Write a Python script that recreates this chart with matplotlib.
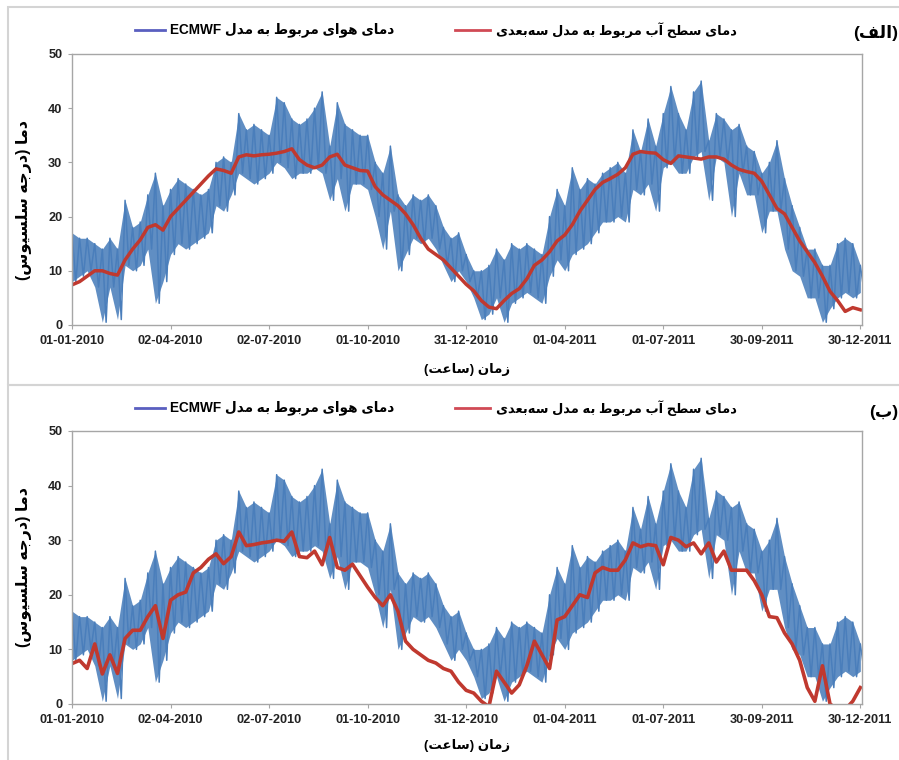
import re
import numpy as np
import matplotlib
matplotlib.use('Agg')
import matplotlib.pyplot as plt
from matplotlib.lines import Line2D
from matplotlib.patches import Rectangle

plt.rcParams['font.family'] = ['Liberation Sans', 'DejaVu Sans']

# sample days (weekly) from 01-01-2010
days = np.arange(0, 729, 7)

tick_days = [0, 91, 182, 273, 364, 455, 546, 637, 728]
tick_labels = ['01-01-2010', '02-04-2010', '02-07-2010', '01-10-2010', '31-12-2010',
               '01-04-2011', '01-07-2011', '30-09-2011', '30-12-2011']

# ECMWF air temperature, weekly upper / lower swing
air_hi = [17, 16, 16, 15, 14, 16, 14, 23, 18, 19,
          24, 28, 22, 25, 27, 26, 25, 24, 25, 30,
          31, 30, 39, 36, 37, 36, 35, 42, 41, 38,
          37, 38, 40, 43, 33, 41, 37, 36, 35, 35,
          30, 28, 33, 24, 22, 24, 23, 24, 22, 18,
          16, 17, 13, 10, 10, 11, 14, 12, 15, 14,
          15, 14, 13, 20, 25, 22, 29, 25, 27, 26,
          28, 29, 30, 28, 36, 32, 38, 33, 39, 44,
          39, 36, 43, 45, 34, 39, 38, 36, 37, 33,
          32, 28, 30, 34, 27, 22, 18, 14, 14, 11,
          11, 15, 16, 15, 11]
air_lo = [8, 9, 10, 7, 0.5, 7, 1, 11, 10, 11,
          14, 4, 8, 13, 15, 14, 15, 16, 17, 22,
          21, 24, 28, 27, 26, 27, 28, 30, 29, 27,
          28, 28, 29, 28, 23, 27, 21, 26, 26, 25,
          20, 14, 21, 10, 13, 16, 15, 16, 14, 11,
          8, 10, 8, 5, 1, 2, 5, 0.5, 4, 5,
          6, 5, 4, 9, 12, 10, 13, 14, 15, 17,
          19, 19, 20, 19, 25, 24, 26, 21, 29, 30,
          28, 28, 31, 32, 23, 31, 30, 20, 28, 24,
          24, 17, 21, 21, 14, 10, 9, 5, 5, 0.5,
          3, 5, 6, 5, 6]

# water surface temperature, panel (a)
water_a = [7.4, 8, 9, 10, 10, 9.5, 9.2, 12, 14, 15.7,
           18, 18.5, 17.5, 20, 21.5, 23, 24.5, 26, 27.5, 28.8,
           28.5, 28, 31, 31.4, 31.2, 31.4, 31.5, 31.7, 32, 32.5,
           30.5, 29.5, 29, 29.5, 31, 31.5, 29.5, 29, 28.5, 28.4,
           25.5, 24, 23, 22, 20.5, 18.5, 16, 14, 13, 12,
           10.5, 9, 7.5, 6.3, 4.5, 3.3, 3, 4.5, 5.8, 6.7,
           8.5, 11, 12, 13.5, 15.5, 16.6, 18.5, 21, 23, 25,
           26.3, 27, 27.8, 29, 31.5, 32, 31.8, 31.7, 30.5, 29.8,
           31.2, 31, 30.8, 30.6, 31, 31, 30.6, 29.5, 28.7, 28.3,
           28, 26.5, 24, 21.5, 20.5, 18, 15.5, 13.5, 11.5, 9,
           6.2, 4.5, 2.5, 3.2, 2.8]

# water surface temperature, panel (b)
water_b = [7.4, 8, 6.5, 11, 5.5, 9, 5.6, 12, 13.5, 13.5,
           16, 18, 12, 19, 20, 20.5, 24, 25, 26.5, 27.5,
           25.7, 27, 31.5, 29, 29.2, 29.5, 29.7, 30, 29.8, 31.5,
           27, 26.8, 28, 25.5, 30.5, 25, 24.5, 25.6, 23.5, 21.4,
           19.5, 18, 20, 17, 11.5, 10, 9, 8, 7.5, 6.5,
           6, 4, 2.5, 2, 0.5, -0.5, 6, 4, 2, 3.5,
           7, 11.5, 9, 6.5, 15.4, 16, 18, 20, 19.5, 24,
           25, 24.5, 24.5, 26.4, 29.5, 28.8, 29.2, 29, 25.5, 30.5,
           30, 28.8, 29.5, 27.5, 29.5, 26, 28, 24.5, 24.5, 24.5,
           22.6, 20, 16, 15.8, 13, 11, 8, 3, 0.5, 7,
           0, -1, -1, 0.5, 3]

# --- minimal Persian shaping for matplotlib (no bidi engine available)
FORMS = {
    '\u0627': ('\uFE8D', '\uFE8E', None, None),
    '\u0622': ('\uFE81', '\uFE82', None, None),
    '\u0628': ('\uFE8F', '\uFE90', '\uFE91', '\uFE92'),
    '\u062A': ('\uFE95', '\uFE96', '\uFE97', '\uFE98'),
    '\u062C': ('\uFE9D', '\uFE9E', '\uFE9F', '\uFEA0'),
    '\u062D': ('\uFEA1', '\uFEA2', '\uFEA3', '\uFEA4'),
    '\u062F': ('\uFEA9', '\uFEAA', None, None),
    '\u0631': ('\uFEAD', '\uFEAE', None, None),
    '\u0632': ('\uFEAF', '\uFEB0', None, None),
    '\u0633': ('\uFEB1', '\uFEB2', '\uFEB3', '\uFEB4'),
    '\u0637': ('\uFEC1', '\uFEC2', '\uFEC3', '\uFEC4'),
    '\u0639': ('\uFEC9', '\uFECA', '\uFECB', '\uFECC'),
    '\u0641': ('\uFED1', '\uFED2', '\uFED3', '\uFED4'),
    '\u0644': ('\uFEDD', '\uFEDE', '\uFEDF', '\uFEE0'),
    '\u0645': ('\uFEE1', '\uFEE2', '\uFEE3', '\uFEE4'),
    '\u0646': ('\uFEE5', '\uFEE6', '\uFEE7', '\uFEE8'),
    '\u0647': ('\uFEE9', '\uFEEA', '\uFEEB', '\uFEEC'),
    '\u0648': ('\uFEED', '\uFEEE', None, None),
    '\u06CC': ('\uFBFC', '\uFBFD', '\uFBFE', '\uFBFF'),
}
MIRROR = str.maketrans('()', ')(')


def fa(s):
    out = []
    for i, c in enumerate(s):
        if c not in FORMS:
            out.append(c)
            continue
        prev = s[i - 1] if i > 0 else ''
        nxt = s[i + 1] if i + 1 < len(s) else ''
        jp = prev in FORMS and FORMS[prev][2] is not None
        jn = FORMS[c][2] is not None and nxt in FORMS
        f = FORMS[c]
        out.append(f[3] if jp and jn else f[1] if jp else f[2] if jn else f[0])
    shaped = ''.join(out).replace('\u200c', '')
    runs = re.findall(r'[A-Za-z0-9]+|[^A-Za-z0-9]+', shaped)
    vis = ''
    for r in reversed(runs):
        vis += r if re.match(r'[A-Za-z0-9]', r) else r[::-1].translate(MIRROR)
    return vis


air_label = fa('دمای هوای مربوط به مدل ECMWF')
water_label = fa('دمای سطح آب مربوط به مدل سه\u200cبعدی')
xlab = fa('زمان (ساعت)')
ylab = fa('دما (درجه سلسیوس)')
panel_tags = [fa('(الف)'), fa('(ب)')]

BLUE = '#4a7ebb'
RED = '#c0392f'

# zig-zag between weekly upper and lower swings
zx = np.column_stack([days, days + 3.5]).ravel()
zy = np.column_stack([air_hi, air_lo]).ravel()

fig = plt.figure(figsize=(8.99, 7.6), dpi=100)

# chart-area frames
fig.patches.append(Rectangle((0.009, 0.4934), 1.0, 0.4974, transform=fig.transFigure,
                             fill=False, ec='#d4d4d4', lw=1.5))
fig.patches.append(Rectangle((0.009, -0.01), 1.0, 0.5034, transform=fig.transFigure,
                             fill=False, ec='#d4d4d4', lw=1.5))

axes_rects = [[0.0801, 0.5724, 0.8787, 0.3566], [0.0801, 0.0737, 0.8787, 0.3592]]
waters = [water_a, water_b]
red_lw = [2.5, 2.6]
leg_y = [1 - 30 / 760, 1 - 408 / 760]
tag_y = [1 - 33 / 760, 1 - 412 / 760]
xlab_y = [1 - 369 / 760, 1 - 746 / 760]
ylab_pos = [0.46, 0.5]

for k in range(2):
    ax = fig.add_axes(axes_rects[k])
    ax.fill_between(days, air_lo, air_hi, color=BLUE, alpha=0.88, lw=0)
    ax.plot(zx, zy, color=BLUE, lw=1.1)
    ax.plot(days, waters[k], color=RED, lw=red_lw[k])
    ax.set_xlim(0, 729.5)
    ax.set_ylim(0, 50)
    ax.set_xticks(tick_days)
    ax.set_xticklabels(tick_labels)
    ax.set_yticks(range(0, 51, 10))
    for s in ax.spines.values():
        s.set_color('#a6a6a6')
        s.set_linewidth(1.0)
    ax.tick_params(length=3, color='#a6a6a6', labelsize=9.2, labelcolor='#222222', pad=4)
    for t in ax.get_xticklabels() + ax.get_yticklabels():
        t.set_fontweight('bold')
    ax.set_ylabel(ylab, fontsize=11.5, fontweight='bold')
    ax.yaxis.set_label_coords(-0.051, ylab_pos[k])

    fig.text(0.5196, xlab_y[k], xlab, ha='center', va='center', fontsize=9.5, fontweight='bold')

    # legend, drawn in figure pixels
    fig.lines.append(Line2D([135 / 899, 165 / 899], [leg_y[k], leg_y[k]], transform=fig.transFigure,
                            color='#5a5fc0', lw=2))
    fig.text(170 / 899, leg_y[k], air_label, ha='left', va='center', fontsize=9.8, fontweight='bold')
    fig.lines.append(Line2D([455 / 899, 490 / 899], [leg_y[k], leg_y[k]], transform=fig.transFigure,
                            color='#d04a55', lw=2))
    fig.text(496 / 899, leg_y[k], water_label, ha='left', va='center', fontsize=9.4, fontweight='bold')
    fig.text(0.999, tag_y[k], panel_tags[k], ha='right', va='center', fontsize=12.5, fontweight='bold')

fig.savefig('out.png', dpi=100)
